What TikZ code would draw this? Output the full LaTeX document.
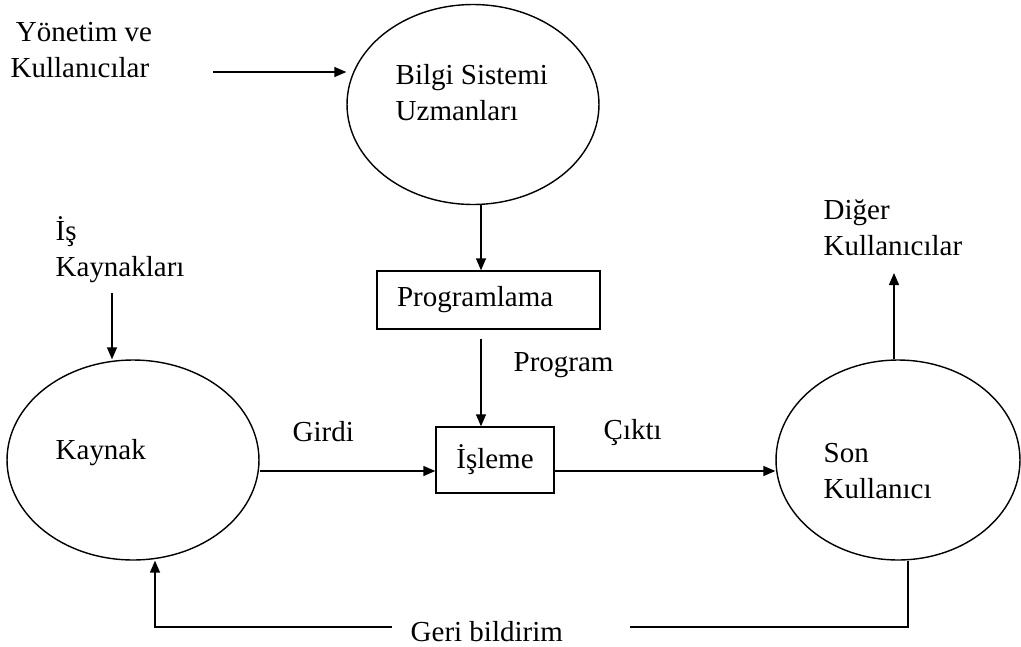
\documentclass[tikz,border=0pt]{standalone}
\usepackage{fontspec}
\setmainfont{Liberation Serif}
\usetikzlibrary{arrows.meta,shapes.geometric}

\begin{document}
\begin{tikzpicture}[x=0.02cm, y=-0.02cm, line width=0.8pt,
		font=\fontsize{16.5pt}{20.4pt}\selectfont,
		arr/.style={-{Triangle[length=0.24cm,width=0.2cm]}},
		oval/.style={draw, ellipse, inner sep=0pt, minimum width=5.04cm, minimum height=4cm},
		box/.style={draw, rectangle, inner sep=0pt},
		txt/.style={anchor=west, align=left, inner sep=0pt}]
		%%%%% START %%%%%
		\useasboundingbox (0, 0) rectangle (1021, 646);
		
		\node[oval] (bilgi) at (473, 104.5) {};
		\node[oval] (kaynak) at (133, 460) {};
		\node[oval, minimum width=4.88cm] (son) at (898, 460) {};
		
		\node[box, minimum height=1.16cm, inner xsep=0.4cm, text width=3.66cm, align=left] (prog) at (488.5, 300) {Programlama};
		\node[box, minimum width=2.36cm, minimum height=1.32cm] (isleme) at (495, 460) {İşleme};
		
		\node[txt] (yonetim) at (10, 50) {\hspace{3pt}Yönetim ve\\Kullanıcılar};
		\node[txt] (uzman) at (395, 92.5) {Bilgi Sistemi\\Uzmanları};
		\node[txt] (iskaynak) at (55, 250) {İş\\Kaynakları};
		\node[txt] (kaynaktxt) at (55, 453) {Kaynak};
		\node[txt] (diger) at (823, 228) {Diğer\\Kullanıcılar};
		\node[txt] (sontxt) at (823, 471) {Son\\Kullanıcı};
		\node[txt] (program) at (513, 365) {Program};
		\node[txt] (girdi) at (292, 432) {Girdi};
		\node[txt] (cikti) at (603, 433) {Çıktı};
		\node[txt] (geri) at (410, 632) {Geri bildirim};
		
		\coordinate (yonout) at (213, 72);
		\coordinate (progx) at (481, 0);
		\coordinate (flow) at (0, 471);
		\coordinate (isin) at (112, 293);
		\coordinate (digerin) at (894, 273);
		\coordinate (geriR) at (908, 627);
		\coordinate (geriL) at (155, 627);
		
		\draw[arr] (yonout) -- (yonout -| bilgi.west);
		\draw[arr] (bilgi.south -| progx) -- (prog.north -| progx);
		\draw[arr, shorten <=0.18cm] (prog.south -| progx) -- (isleme.north -| progx);
		\draw[arr] (kaynak.east |- flow) -- (isleme.west |- flow);
		\draw[arr] (isleme.east |- flow) -- (son.west |- flow);
		\draw[arr] (isin) -- (isin |- kaynak.north);
		\draw[arr] (digerin |- son.north) -- (digerin);
		
		\draw (geriR |- son.south) -- (geriR) -- ([xshift=1.32cm]geri.east |- geriR);
		\draw[arr] ([xshift=-0.36cm]geri.west |- geriL) -- (geriL) -- (geriL |- kaynak.south);
		%%%%% END %%%%%
	\end{tikzpicture}
\end{document}
